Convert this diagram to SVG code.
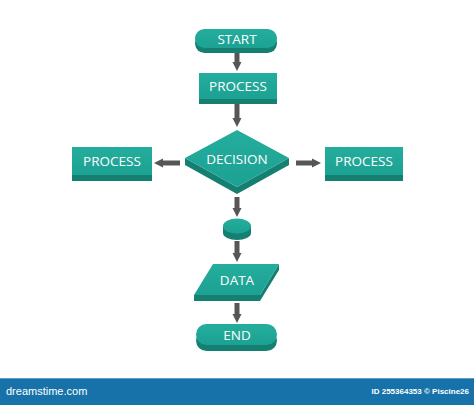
<svg xmlns="http://www.w3.org/2000/svg" width="474" height="405" viewBox="0 0 474 405">
<defs>
<linearGradient id="top" x1="0" y1="0" x2="0" y2="1">
<stop offset="0" stop-color="#24ad9d"/>
<stop offset="1" stop-color="#1ca192"/>
</linearGradient>
<marker id="ah" viewBox="0 0 10 10" refX="0" refY="5" markerWidth="9" markerHeight="14" markerUnits="userSpaceOnUse" orient="auto">
<path d="M0,0 L10,5 L0,10 Z" fill="#565656"/>
</marker>
<style>
.face{fill:url(#top);}
.side{fill:#157f71;}
.lbl{font-family:"Open Sans","Liberation Sans",sans-serif;font-size:13.5px;fill:#ffffff;text-anchor:middle;}
.con{stroke:#565656;stroke-width:5;fill:none;}
</style>
</defs>
<rect width="474" height="405" fill="#ffffff"/>

<g id="connectors">
<line class="con" x1="237" y1="52" x2="237" y2="62" marker-end="url(#ah)"/>
<line class="con" x1="237" y1="104" x2="237" y2="118" marker-end="url(#ah)"/>
<line class="con" x1="180" y1="163" x2="163" y2="163" marker-end="url(#ah)"/>
<line class="con" x1="296" y1="163" x2="312" y2="163" marker-end="url(#ah)"/>
<line class="con" x1="237" y1="197" x2="237" y2="208" marker-end="url(#ah)"/>
<line class="con" x1="237" y1="241" x2="237" y2="253" marker-end="url(#ah)"/>
<line class="con" x1="237" y1="303" x2="237" y2="314" marker-end="url(#ah)"/>
</g>

<g id="start">
<rect class="side" x="195" y="34" width="82" height="19" rx="9.5"/>
<rect class="face" x="195" y="29" width="82" height="19" rx="9.5"/>
<text class="lbl" x="237" y="43.5">START</text>
</g>

<g id="process1">
<rect class="side" x="199" y="73" width="78" height="31"/>
<rect class="face" x="199" y="73" width="78" height="26"/>
<text class="lbl" x="238" y="91">PROCESS</text>
</g>

<g id="decision">
<polygon class="side" points="185,158 237,187 289,158 289,165 237,194 185,165"/>
<polygon class="face" points="237,130 289,158 237,187 185,158"/>
<text class="lbl" x="237" y="163.5">DECISION</text>
</g>

<g id="process-left">
<rect class="side" x="72" y="147" width="80" height="34"/>
<rect class="face" x="72" y="147" width="80" height="28"/>
<text class="lbl" x="112" y="165.5">PROCESS</text>
</g>

<g id="process-right">
<rect class="side" x="325" y="147" width="78" height="34"/>
<rect class="face" x="325" y="147" width="78" height="28"/>
<text class="lbl" x="364" y="165.5">PROCESS</text>
</g>

<g id="connector-point">
<path class="side" d="M223,226 L223,233 A14,7 0 0 0 251,233 L251,226 Z"/>
<ellipse class="face" cx="237" cy="226" rx="14" ry="7.5"/>
</g>

<g id="data">
<polygon class="side" points="194,295 260,295 279,264 279,270 260,301 194,301"/>
<polygon class="face" points="213,264 279,264 260,295 194,295"/>
<text class="lbl" x="237" y="285">DATA</text>
</g>

<g id="end">
<rect class="side" x="196" y="330" width="81" height="21" rx="10.5"/>
<rect class="face" x="196" y="324" width="81" height="21" rx="10.5"/>
<text class="lbl" x="237" y="339.5">END</text>
</g>

<g id="footer">
<rect x="0" y="378" width="474" height="27" fill="#1872aa"/>
<rect x="0" y="378" width="474" height="1" fill="#5aa0cc"/>
<text x="6" y="395" font-family="'Liberation Sans',sans-serif" font-size="11" fill="#ffffff">dreamstime.com</text>
<text x="469" y="394" font-family="'Liberation Sans',sans-serif" font-size="8" font-weight="bold" fill="#ffffff" text-anchor="end">ID 255364353 © Piscine26</text>
</g>
</svg>
